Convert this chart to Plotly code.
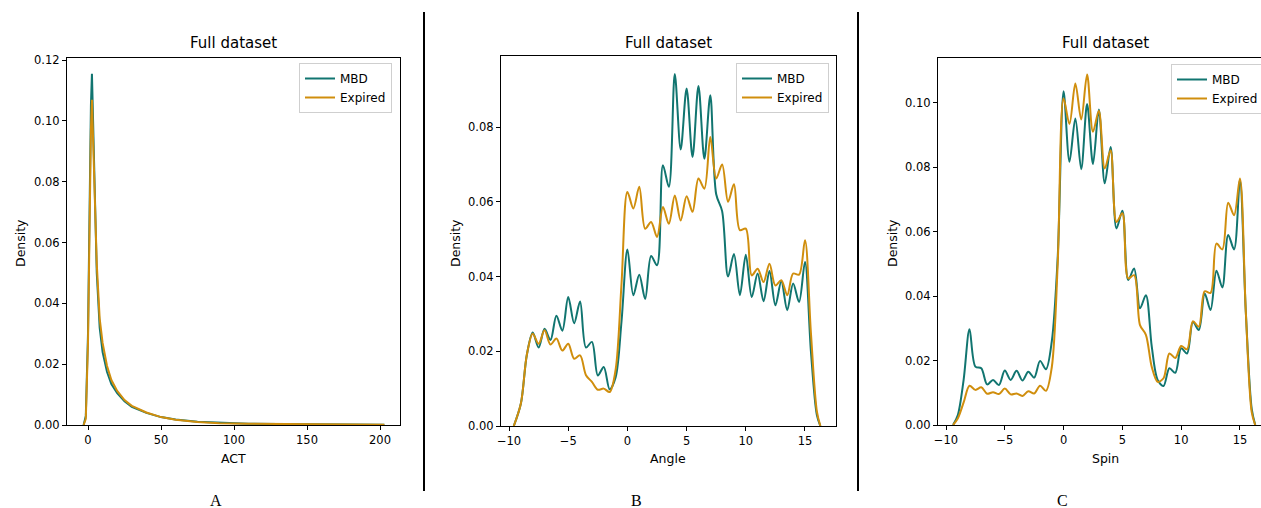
import plotly.graph_objects as go

W, H = 1261, 508

# ---------------- data ----------------
act_x = [-3, -1.5, 0, 1, 2, 2.7, 4, 6, 8, 10, 13, 16, 20, 25, 30, 40, 50, 60, 75, 90, 110, 130, 150, 175, 203]
act_mbd = [0, 0.003, 0.03, 0.07, 0.105, 0.1155, 0.085, 0.05, 0.032, 0.024, 0.0175, 0.0135, 0.0105, 0.0078,
           0.006, 0.004, 0.0026, 0.0018, 0.0011, 0.0007, 0.0004, 0.0003, 0.0002, 0.0001, 0.00005]
act_exp = [0, 0.002, 0.027, 0.065, 0.097, 0.107, 0.085, 0.053, 0.035, 0.027, 0.0195, 0.0148, 0.0112, 0.0082,
           0.0063, 0.0041, 0.0026, 0.0017, 0.001, 0.0006, 0.0004, 0.0003, 0.0002, 0.0001, 0.00005]

angle_x = [-9.6, -9.0, -8.5, -8.0, -7.5, -7.0, -6.5, -6.0, -5.5, -5.0, -4.5, -4.0, -3.5, -3.0, -2.5, -2.0,
           -1.5, -1.0, -0.5, 0.0, 0.5, 1.0, 1.5, 2.0, 2.5, 3.0, 3.5, 4.0, 4.5, 5.0, 5.5, 6.0, 6.5, 7.0, 7.5,
           8.0, 8.5, 9.0, 9.5, 10.0, 10.5, 11.0, 11.5, 12.0, 12.5, 13.0, 13.5, 14.0, 14.5, 15.0, 15.5, 16.0, 16.3]
angle_mbd = [0, 0.006, 0.019, 0.025, 0.021, 0.026, 0.023, 0.0295, 0.0255, 0.0345, 0.0275, 0.0333, 0.021, 0.0225,
             0.0135, 0.0158, 0.0098, 0.013, 0.028, 0.0472, 0.035, 0.0405, 0.034, 0.0455, 0.043, 0.0698, 0.064,
             0.0942, 0.074, 0.0903, 0.072, 0.091, 0.0715, 0.0885, 0.062, 0.0575, 0.040, 0.046, 0.035, 0.0458,
             0.0345, 0.0408, 0.0334, 0.0415, 0.0323, 0.0387, 0.031, 0.0381, 0.0332, 0.0439, 0.02, 0.003, 0]
angle_exp = [0, 0.006, 0.019, 0.0247, 0.022, 0.0256, 0.0218, 0.0234, 0.0202, 0.022, 0.018, 0.0189, 0.0136, 0.0118,
             0.0097, 0.010, 0.0091, 0.015, 0.038, 0.0626, 0.0582, 0.064, 0.0528, 0.0546, 0.0506, 0.0586, 0.0541,
             0.0617, 0.055, 0.0615, 0.0573, 0.0662, 0.0635, 0.0773, 0.0662, 0.070, 0.060, 0.0647, 0.0524, 0.0528,
             0.0403, 0.0421, 0.0385, 0.0434, 0.0376, 0.039, 0.035, 0.0408, 0.0405, 0.0497, 0.025, 0.004, 0]

spin_x = [-9.4, -9.0, -8.5, -8.0, -7.5, -7.0, -6.5, -6.0, -5.5, -5.0, -4.5, -4.0, -3.5, -3.0, -2.5, -2.0,
          -1.5, -1.0, -0.5, 0.0, 0.5, 1.0, 1.5, 2.0, 2.5, 3.0, 3.5, 4.0, 4.5, 5.0, 5.5, 6.0, 6.5, 7.0, 7.5,
          8.0, 8.5, 9.0, 9.5, 10.0, 10.5, 11.0, 11.5, 12.0, 12.5, 13.0, 13.5, 14.0, 14.5, 15.0, 15.5, 16.0, 16.3]
spin_mbd = [0, 0.003, 0.014, 0.0297, 0.0181, 0.0176, 0.0126, 0.014, 0.0124, 0.0169, 0.014, 0.0168, 0.0138, 0.0165,
            0.0147, 0.0199, 0.0173, 0.026, 0.052, 0.1036, 0.0817, 0.0951, 0.0794, 0.0996, 0.081, 0.0979, 0.075,
            0.0863, 0.061, 0.0665, 0.045, 0.0486, 0.0362, 0.0403, 0.0243, 0.014, 0.0121, 0.0176, 0.0162, 0.0238,
            0.0222, 0.032, 0.0295, 0.0408, 0.0357, 0.0479, 0.0427, 0.059, 0.0545, 0.076, 0.035, 0.005, 0]
spin_exp = [0, 0.002, 0.007, 0.0122, 0.0109, 0.0117, 0.0097, 0.0102, 0.0096, 0.0113, 0.0095, 0.0098, 0.009, 0.0105,
            0.0098, 0.0122, 0.0106, 0.018, 0.05, 0.1013, 0.0934, 0.106, 0.0948, 0.1088, 0.091, 0.0975, 0.0796,
            0.0853, 0.063, 0.0657, 0.0455, 0.0465, 0.031, 0.028, 0.018, 0.0134, 0.0145, 0.0222, 0.0208, 0.0245,
            0.0235, 0.0322, 0.0305, 0.0415, 0.041, 0.0563, 0.0545, 0.069, 0.0651, 0.0765, 0.035, 0.004, 0]

series_names = ["MBD", "Expired"]
x_labels = ["ACT", "Angle", "Spin"]
panel_letters = ["A", "B", "C"]
title_text = "Full dataset"
act_ticks = [0, 50, 100, 150, 200]
pm_ticks = [-10, -5, 0, 5, 10, 15]
act_yticks = [0, 0.02, 0.04, 0.06, 0.08, 0.10, 0.12]
angle_yticks = [0, 0.02, 0.04, 0.06, 0.08]
spin_yticks = [0, 0.02, 0.04, 0.06, 0.08, 0.10]

# ---------------- style ----------------
TEAL = "#117570"
GOLD = "#d08e0d"
FONT = "DejaVu Sans"


def px_x(p):
    return p / W


def px_y(p):
    return (H - p) / H


fig = go.Figure()

panels = [
    dict(x=act_x, m=act_mbd, e=act_exp, shape="linear", ax="", legend="legend"),
    dict(x=angle_x, m=angle_mbd, e=angle_exp, shape="spline", ax="2", legend="legend2"),
    dict(x=spin_x, m=spin_mbd, e=spin_exp, shape="spline", ax="3", legend="legend3"),
]
for p in panels:
    for name, ys, col in [(series_names[0], p["m"], TEAL), (series_names[1], p["e"], GOLD)]:
        fig.add_trace(go.Scatter(
            x=p["x"], y=ys, mode="lines", name=name,
            line=dict(color=col, width=2, shape=p["shape"], smoothing=0.9 if p["shape"] == "spline" else None),
            xaxis="x" + p["ax"], yaxis="y" + p["ax"], legend=p["legend"],
        ))

axis_common = dict(
    showgrid=False, zeroline=False, showline=True, linecolor="black", linewidth=1.2,
    ticks="outside", ticklen=4, tickcolor="black", tickwidth=1,
    tickfont=dict(family=FONT, size=11.5, color="black"),
)

# panel geometry in pixels: (left, right, top, bottom)
geo = {"": (67, 400, 58, 425), "2": (501, 836, 56, 426), "3": (938, 1261, 58, 425)}
xr = {"": [-14.38, 213.7], "2": [-10.68, 17.62], "3": [-10.68, 16.79]}
yr = {"": [0, 0.1207], "2": [0, 0.099], "3": [0, 0.1139]}
xt = {"": act_ticks, "2": pm_ticks, "3": pm_ticks}
yt = {"": act_yticks, "2": angle_yticks, "3": spin_yticks}

layout = {}
for k, (l, r, t, b) in geo.items():
    layout["xaxis" + k] = dict(axis_common, domain=[px_x(l), min(px_x(r), 1.0)], range=xr[k],
                               tickvals=xt[k], mirror=True, anchor="y" + k)
    layout["yaxis" + k] = dict(axis_common, domain=[px_y(b), px_y(t)], range=yr[k],
                               tickvals=yt[k], tickformat=".2f", mirror=(k != "3"), anchor="x" + k)
fig.update_layout(**layout)

legend_style = dict(bgcolor="white", bordercolor="#cfcfcf", borderwidth=1,
                    font=dict(family=FONT, size=12, color="black"), tracegroupgap=0,
                    yanchor="top")
fig.update_layout(
    legend=dict(legend_style, x=px_x(392), xanchor="right", y=px_y(63)),
    legend2=dict(legend_style, x=px_x(829), xanchor="right", y=px_y(63)),
    legend3=dict(legend_style, x=px_x(1171), xanchor="left", y=px_y(64)),
)

annotations = []
centers = [(67 + 400) / 2, (501 + 836) / 2, (938 + 1272) / 2]
for cx in centers:
    annotations.append(dict(text=title_text, x=px_x(cx), y=px_y(43), xref="paper", yref="paper",
                            showarrow=False, font=dict(family=FONT, size=15, color="black"),
                            xanchor="center", yanchor="middle"))
for cx, lab in zip([233, 668, 1105], x_labels):
    annotations.append(dict(text=lab, x=px_x(cx), y=px_y(458), xref="paper", yref="paper",
                            showarrow=False, font=dict(family=FONT, size=12.5, color="black"),
                            xanchor="center", yanchor="middle"))
for cx in [20, 455, 892]:
    annotations.append(dict(text="Density", x=px_x(cx), y=px_y(243), xref="paper", yref="paper",
                            showarrow=False, textangle=-90, font=dict(family=FONT, size=12.5, color="black"),
                            xanchor="center", yanchor="middle"))
for cx, lab in zip([216, 636, 1062], panel_letters):
    annotations.append(dict(text=lab, x=px_x(cx), y=px_y(500), xref="paper", yref="paper",
                            showarrow=False, font=dict(family="Liberation Serif", size=16, color="black"),
                            xanchor="center", yanchor="middle"))

shapes = []
for dx in [424, 858]:
    shapes.append(dict(type="line", xref="paper", yref="paper", x0=px_x(dx), x1=px_x(dx),
                       y0=px_y(491), y1=px_y(12), line=dict(color="black", width=2)))

fig.update_layout(
    width=W, height=H, margin=dict(l=0, r=0, t=0, b=0, autoexpand=False),
    paper_bgcolor="white", plot_bgcolor="white",
    annotations=annotations, shapes=shapes, showlegend=True,
)

fig.write_html("out.html")
